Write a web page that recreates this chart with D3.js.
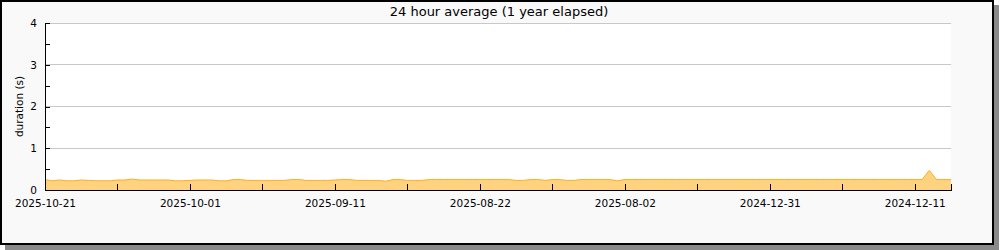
<!DOCTYPE html>
<html>
<head>
<meta charset="utf-8">
<script src="https://cdn.jsdelivr.net/npm/d3@7"></script>
<style>
  body { margin: 0; background: #fff; }
  text { font-family: "DejaVu Sans", sans-serif; }
</style>
</head>
<body>
<div id="chart"></div>
<script>
// --- DATA ---
const chartTitle = "24 hour average (1 year elapsed)";
const yLabel = "duration (s)";
const yTicks = [0, 1, 2, 3, 4];
// one label every 20 points (newest first)
const labelDates = ["2025-10-21", "2025-10-01", "2025-09-11", "2025-08-22", "2025-08-02", "2024-12-31", "2024-12-11"];
// daily average duration, newest on the left
const durations = [
  0.25, 0.22, 0.24, 0.22, 0.22, 0.24, 0.23, 0.22, 0.22, 0.22,
  0.24, 0.24, 0.26, 0.24, 0.24, 0.24, 0.24, 0.24, 0.22, 0.22,
  0.23, 0.24, 0.24, 0.24, 0.22, 0.22, 0.25, 0.25, 0.23, 0.23,
  0.23, 0.23, 0.23, 0.23, 0.25, 0.25, 0.23, 0.23, 0.23, 0.23,
  0.24, 0.25, 0.25, 0.23, 0.23, 0.23, 0.23, 0.21, 0.25, 0.25,
  0.23, 0.23, 0.23, 0.25, 0.25, 0.25, 0.25, 0.25, 0.25, 0.25,
  0.25, 0.25, 0.25, 0.25, 0.25, 0.23, 0.23, 0.25, 0.25, 0.23,
  0.25, 0.25, 0.23, 0.23, 0.25, 0.25, 0.25, 0.25, 0.25, 0.22,
  0.25, 0.25, 0.25, 0.25, 0.25, 0.25, 0.25, 0.25, 0.25, 0.25,
  0.25, 0.25, 0.25, 0.25, 0.25, 0.25, 0.25, 0.25, 0.25, 0.25,
  0.25, 0.25, 0.25, 0.25, 0.25, 0.25, 0.25, 0.25, 0.25, 0.25,
  0.25, 0.25, 0.25, 0.25, 0.25, 0.25, 0.25, 0.25, 0.25, 0.25,
  0.25, 0.25, 0.47, 0.25, 0.25, 0.25
];

// --- SETUP ---
const W = 1000, H = 250;
const plot = {left: 45, right: 951, top: 23, bottom: 190};

const svg = d3.select("#chart").append("svg")
    .attr("width", W)
    .attr("height", H);

// frame with drop shadow
svg.append("rect")
    .attr("x", 5).attr("y", 5)
    .attr("width", 994).attr("height", 245)
    .attr("fill", "#8a8a8a");
svg.append("rect")
    .attr("x", 1).attr("y", 1)
    .attr("width", 992).attr("height", 243)
    .attr("fill", "#f9f9f9")
    .attr("stroke", "#000")
    .attr("stroke-width", 2);

svg.append("rect")
    .attr("x", plot.left).attr("y", plot.top)
    .attr("width", plot.right - plot.left)
    .attr("height", plot.bottom - plot.top)
    .attr("fill", "#fff");

const x = d3.scaleLinear()
    .domain([0, durations.length - 1])
    .range([plot.left, plot.right]);

const y = d3.scaleLinear()
    .domain([0, 4])
    .range([plot.bottom, plot.top]);

// grid
svg.append("g")
    .selectAll("line")
    .data(yTicks.filter(d => d > 0))
    .enter().append("line")
    .attr("x1", plot.left).attr("x2", plot.right)
    .attr("y1", d => y(d)).attr("y2", d => y(d))
    .attr("stroke", "#c8c8c8")
    .attr("shape-rendering", "crispEdges");

// area
const area = d3.area()
    .x((d, i) => x(i))
    .y0(y(0))
    .y1(d => y(d));
const line = d3.line()
    .x((d, i) => x(i))
    .y(d => y(d));

svg.append("path")
    .datum(durations)
    .attr("d", area)
    .attr("fill", "#ffd280");
svg.append("path")
    .datum(durations)
    .attr("d", line)
    .attr("fill", "none")
    .attr("stroke", "#ffae1a")
    .attr("stroke-width", 1);

// axes
const xTickIdx = d3.range(0, durations.length, 10);
const xAxis = svg.append("g")
    .attr("transform", `translate(0,${plot.bottom})`)
    .call(d3.axisBottom(x)
        .tickValues(xTickIdx)
        .tickSize(-6)
        .tickPadding(10)
        .tickFormat(i => i % 20 === 0 ? labelDates[i / 20] : ""));
xAxis.select(".domain").attr("shape-rendering", "crispEdges");
xAxis.selectAll("line").attr("shape-rendering", "crispEdges");
xAxis.selectAll("text").attr("font-size", 10.5).attr("fill", "#000")
    .attr("font-family", "DejaVu Sans");

const yAxis = svg.append("g")
    .attr("transform", `translate(${plot.left},0)`)
    .call(d3.axisLeft(y)
        .tickValues(d3.range(0, 4.01, 0.5))
        .tickSize(-5)
        .tickPadding(8)
        .tickFormat(d => Number.isInteger(d) ? d : ""));
yAxis.select(".domain").attr("shape-rendering", "crispEdges");
yAxis.selectAll("line").attr("shape-rendering", "crispEdges");
yAxis.selectAll("text").attr("font-size", 10.5).attr("fill", "#000")
    .attr("font-family", "DejaVu Sans");

// labels
svg.append("text")
    .attr("x", 499).attr("y", 16)
    .attr("text-anchor", "middle")
    .attr("font-size", 13)
    .text(chartTitle);

svg.append("text")
    .attr("transform", `translate(23,${(plot.top + plot.bottom) / 2}) rotate(-90)`)
    .attr("text-anchor", "middle")
    .attr("font-size", 10.5)
    .text(yLabel);
</script>
</body>
</html>
